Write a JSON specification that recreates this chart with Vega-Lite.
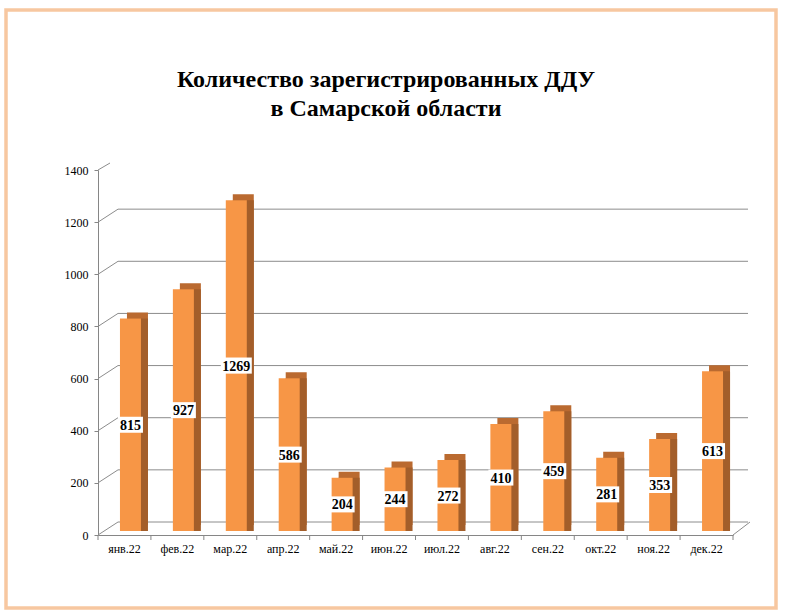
{
  "$schema": "https://vega.github.io/schema/vega-lite/v6.json",
  "width": 770,
  "height": 598,
  "autosize": {"type": "none"},
  "padding": {"left": 6, "top": 10, "right": 13, "bottom": 7},
  "background": "white",
  "config": {
    "view": {"stroke": "#F7C7A0", "strokeWidth": 3.5},
    "font": "Liberation Serif"
  },
  "title": {
    "text": ["Количество зарегистрированных ДДУ", "в Самарской области"],
    "font": "Liberation Serif",
    "fontSize": 24,
    "fontWeight": "bold",
    "color": "#000000",
    "anchor": "middle",
    "frame": "group",
    "orient": "top",
    "offset": -111,
    "baseline": "top",
    "lineHeight": 29,
    "dx": -5
  },
  "datasets": {
    "months": [
      {"m": "янв.22", "v": 815},
      {"m": "фев.22", "v": 927},
      {"m": "мар.22", "v": 1269},
      {"m": "апр.22", "v": 586},
      {"m": "май.22", "v": 204},
      {"m": "июн.22", "v": 244},
      {"m": "июл.22", "v": 272},
      {"m": "авг.22", "v": 410},
      {"m": "сен.22", "v": 459},
      {"m": "окт.22", "v": 281},
      {"m": "ноя.22", "v": 353},
      {"m": "дек.22", "v": 613}
    ],
    "grid": [
      {"v": 0}, {"v": 200}, {"v": 400}, {"v": 600}, {"v": 800}, {"v": 1000}, {"v": 1200}
    ]
  },
  "layer": [
    {
      "layer": [
        {
          "data": {"name": "grid"},
          "mark": {"type": "rule", "color": "#8C8C8C", "strokeWidth": 1, "xOffset": 20, "x2Offset": 15, "yOffset": -13},
          "encoding": {
            "x": {
              "datum": "янв.22", "type": "nominal", "bandPosition": 0,
              "scale": {
                "domain": ["янв.22", "фев.22", "мар.22", "апр.22", "май.22", "июн.22", "июл.22", "авг.22", "сен.22", "окт.22", "ноя.22", "дек.22"],
                "range": [92, 727], "paddingInner": 0, "paddingOuter": 0
              },
              "axis": {
                "orient": "bottom", "offset": -73, "ticks": false, "domainColor": "#868686",
                "labelFont": "Liberation Serif", "labelFontSize": 12, "labelColor": "#000000",
                "labelPadding": 8, "labelAngle": 0, "title": null, "grid": false
              }
            },
            "x2": {"datum": "дек.22", "bandPosition": 1},
            "y": {
              "field": "v", "type": "quantitative",
              "scale": {"domain": [0, 1400], "range": [525, 160], "nice": false, "zero": true},
              "axis": {
                "values": [0, 200, 400, 600, 800, 1000, 1200, 1400], "format": "d", "grid": false,
                "domainColor": "#868686", "tickColor": "#868686", "tickSize": 4,
                "labelFont": "Liberation Serif", "labelFontSize": 12, "labelColor": "#000000",
                "labelPadding": 6, "offset": -92, "title": null
              }
            }
          }
        },
        {
          "data": {"name": "grid"},
          "mark": {"type": "rule", "color": "#8C8C8C", "strokeWidth": 1, "x2Offset": 20, "y2Offset": -13},
          "encoding": {
            "x": {"datum": "янв.22", "type": "nominal", "bandPosition": 0},
            "x2": {"datum": "янв.22", "bandPosition": 0},
            "y": {"field": "v", "type": "quantitative"},
            "y2": {"field": "v"}
          }
        },
        {
          "data": {"values": [{"v": 1400}]},
          "mark": {"type": "rule", "color": "#8C8C8C", "strokeWidth": 1, "x2Offset": 12, "y2Offset": -7},
          "encoding": {
            "x": {"datum": "янв.22", "type": "nominal", "bandPosition": 0},
            "x2": {"datum": "янв.22", "bandPosition": 0},
            "y": {"field": "v", "type": "quantitative"},
            "y2": {"field": "v"}
          }
        },
        {
          "data": {"values": [{"v": 0}]},
          "mark": {"type": "rule", "color": "#8C8C8C", "strokeWidth": 1, "x2Offset": 17, "y2Offset": -13},
          "encoding": {
            "x": {"datum": "дек.22", "type": "nominal", "bandPosition": 1},
            "x2": {"datum": "дек.22", "bandPosition": 1},
            "y": {"field": "v", "type": "quantitative"},
            "y2": {"field": "v"}
          }
        },
        {
          "data": {"name": "months"},
          "mark": {"type": "rule", "color": "#868686", "strokeWidth": 1, "y2Offset": 5},
          "encoding": {
            "x": {"field": "m", "type": "nominal", "bandPosition": 0},
            "y": {"datum": 0, "type": "quantitative"},
            "y2": {"datum": 0}
          }
        },
        {
          "data": {"values": [{"v": 0}]},
          "mark": {"type": "rule", "color": "#868686", "strokeWidth": 1, "y2Offset": 5},
          "encoding": {
            "x": {"datum": "дек.22", "type": "nominal", "bandPosition": 1},
            "y": {"field": "v", "type": "quantitative"},
            "y2": {"field": "v"}
          }
        },
        {
          "data": {"name": "months"},
          "mark": {"type": "bar", "width": 21, "xOffset": 13, "yOffset": -10, "y2Offset": -10, "color": "#BA6A30"},
          "encoding": {
            "x": {"field": "m", "type": "nominal"},
            "y": {"field": "v", "type": "quantitative"}
          }
        },
        {
          "data": {"name": "months"},
          "mark": {"type": "bar", "width": 21, "xOffset": 13, "yOffset": -4, "y2Offset": -10, "color": "#A35E2A"},
          "encoding": {
            "x": {"field": "m", "type": "nominal"},
            "y": {"field": "v", "type": "quantitative"}
          }
        },
        {
          "data": {"name": "months"},
          "mark": {"type": "bar", "width": 21, "xOffset": 6, "yOffset": -4, "y2Offset": -4, "color": "#F79646"},
          "encoding": {
            "x": {"field": "m", "type": "nominal"},
            "y": {"field": "v", "type": "quantitative"}
          }
        }
      ]
    },
    {
      "data": {"name": "months"},
      "layer": [
        {
          "mark": {"type": "point", "filled": true, "fill": "white", "opacity": 1, "strokeWidth": 0, "xOffset": 6, "yOffset": -4},
          "encoding": {
            "x": {"field": "m", "type": "nominal"},
            "y": {
              "field": "v", "type": "quantitative",
              "scale": {"domain": [0, 2800], "range": [525, 160], "nice": false, "zero": true},
              "axis": null
            },
            "shape": {
              "condition": {"test": "datum.v >= 1000", "value": "M-1,-0.52L1,-0.52L1,0.52L-1,0.52Z"},
              "value": "M-1,-0.64L1,-0.64L1,0.64L-1,0.64Z"
            },
            "size": {"condition": {"test": "datum.v >= 1000", "value": 961}, "value": 625}
          }
        },
        {
          "mark": {"type": "text", "font": "Liberation Serif", "fontSize": 14, "fontWeight": "bold", "color": "#000000", "align": "center", "baseline": "middle", "xOffset": 6, "yOffset": -3},
          "encoding": {
            "x": {"field": "m", "type": "nominal"},
            "y": {"field": "v", "type": "quantitative"},
            "text": {"field": "v", "type": "quantitative"}
          }
        }
      ]
    }
  ],
  "resolve": {"scale": {"y": "independent"}}
}
